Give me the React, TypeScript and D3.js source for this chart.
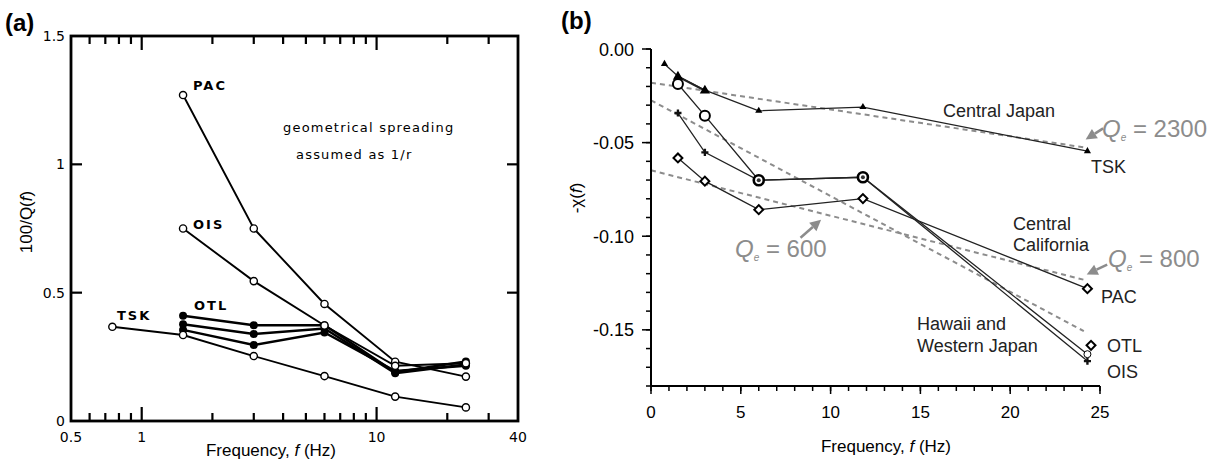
import React from "react";
import * as d3 from "d3";

// ---------- Panel (a) data ----------
const aFreq = [1.5, 3, 6, 12, 24];
const aTskFreq = [0.75, 1.5, 3, 6, 12, 24];
const aPAC = [1.27, 0.75, 0.456, 0.231, 0.173];
const aOIS = [0.75, 0.545, 0.372, 0.215, 0.225];
const aTSK = [0.367, 0.335, 0.253, 0.175, 0.095, 0.053];
const aOTL1 = [0.41, 0.373, 0.373, 0.19, 0.232];
const aOTL2 = [0.377, 0.339, 0.36, 0.186, 0.22];
const aOTL3 = [0.355, 0.296, 0.345, 0.195, 0.215];
const aMinorTicks = [0.6, 0.7, 0.8, 0.9, 2, 3, 4, 5, 6, 7, 8, 9, 20, 30];
const aMajorTicks = [1, 10];
const aXLabels = [0.5, 1, 10, 40];
const aXLabelText = ["0.5", "1", "10", "40"];
const aYTicks = [0.5, 1];
const aYLabels = [0, 0.5, 1, 1.5];
const aYLabelText = ["0", "0.5", "1", "1.5"];

// ---------- Panel (b) data ----------
const bFreq = [1.5, 3, 6, 11.8, 24.3];
const bTskFreq = [0.75, 1.5, 3, 6, 11.8, 24.3];
const bTSK = [-0.008, -0.0145, -0.022, -0.033, -0.031, -0.0546];
const bTskBigFreq = [1.5, 3];
const bTskBig = [-0.0148, -0.0222];
const bCircle = [-0.0187, -0.0356, -0.0701, -0.0685, -0.163];
const bPlus = [-0.0342, -0.0552, -0.0701, -0.0685, -0.1667];
const bPAC = [-0.0582, -0.0706, -0.0858, -0.0799, -0.128];
const bOtlFreq = [24.5];
const bOTL = [-0.1583];
const bQ2300 = [[0, -0.018], [24.3, -0.0528]];
const bQ600 = [[0, -0.0274], [24.1, -0.1507]];
const bQ800 = [[0, -0.0648], [24.2, -0.1235]];
const bXTicks = [0, 5, 10, 15, 20, 25];
const bXMinor = d3.range(0, 26, 1);
const bYTicks = [0, -0.05, -0.1, -0.15];
const bYTickText = ["0.00", "-0.05", "-0.10", "-0.15"];
const bYMinor = [0, -0.01, -0.02, -0.03, -0.04, -0.05, -0.06, -0.07, -0.08, -0.09, -0.1, -0.11, -0.12, -0.13, -0.14, -0.15, -0.16, -0.17, -0.18];
// arrows: [tail, tip] in data coordinates
const bArrow2300 = [[24.8, -0.0447], [24.2, -0.0484]];
const bArrow600 = [[8.66, -0.098], [9.47, -0.0912]];
const bArrow800 = [[25.0, -0.117], [24.26, -0.1205]];

const GRAY = "#8c8c8c";

export default function App() {
  const xA = d3.scaleLog().domain([0.5, 40]).range([71, 518]);
  const yA = d3.scaleLinear().domain([0, 1.5]).range([421, 36]);
  const xB = d3.scaleLinear().domain([0, 25]).range([651, 1100]);
  const yB = d3.scaleLinear().domain([-0.18, 0]).range([386, 49]);

  const lineA = (fs: number[], vs: number[]) =>
    d3.line<number>().x((_, i) => xA(fs[i])).y((v) => yA(v))(vs) || "";
  const lineB = (fs: number[], vs: number[]) =>
    d3.line<number>().x((_, i) => xB(fs[i])).y((v) => yB(v))(vs) || "";
  const lineBP = (pts: number[][]) =>
    d3.line<number[]>().x((p) => xB(p[0])).y((p) => yB(p[1]))(pts) || "";

  const aFont = "'DejaVu Sans', Verdana, sans-serif";
  const bFont = "'Liberation Sans', Arial, Helvetica, sans-serif";

  const openA = (fs: number[], vs: number[], key: string) =>
    vs.map((v, i) => (
      <circle key={key + i} cx={xA(fs[i])} cy={yA(v)} r={3.6} fill="#fff" stroke="#000" strokeWidth={1.4} />
    ));
  const filledA = (fs: number[], vs: number[], key: string) =>
    vs.map((v, i) => <circle key={key + i} cx={xA(fs[i])} cy={yA(v)} r={4} fill="#000" />);

  const sym = (type: d3.SymbolType, size: number) => d3.symbol().type(type).size(size)() || "";

  const arrow = (pts: number[][], key: string) => {
    const [t, h] = pts;
    const x1 = xB(t[0]), y1 = yB(t[1]), x2 = xB(h[0]), y2 = yB(h[1]);
    const ang = Math.atan2(y2 - y1, x2 - x1);
    const L = 11, W = 5.5;
    const bx = x2 - L * Math.cos(ang), by = y2 - L * Math.sin(ang);
    const px = -Math.sin(ang) * W, py = Math.cos(ang) * W;
    const ext = 8;
    return (
      <g key={key}>
        <line x1={x1 + ext * Math.cos(ang + Math.PI)} y1={y1 + ext * Math.sin(ang + Math.PI)} x2={bx} y2={by} stroke={GRAY} strokeWidth={2.5} />
        <path d={`M${x2},${y2}L${bx + px},${by + py}L${bx - px},${by - py}Z`} fill={GRAY} />
      </g>
    );
  };

  const qLabel = (x: number, y: number, num: string) => (
    <text x={x} y={y} fontFamily={bFont} fontSize={24} fill={GRAY}>
      <tspan fontStyle="italic">Q</tspan>
      <tspan fontStyle="italic" fontSize={10} dy={4}>e</tspan>
      <tspan dy={-4}>{" = " + num}</tspan>
    </text>
  );

  const diamond = sym(d3.symbolSquare, 40);

  return (
    <svg width={1214} height={459} style={{ display: "block", position: "absolute", left: 0, top: 0 }}>
      <rect width={1214} height={459} fill="#fff" />

      {/* ================= Panel (a) ================= */}
      <text x={5} y={31} fontFamily={bFont} fontWeight="bold" fontSize={24}>(a)</text>
      <rect x={71} y={36} width={447} height={385} fill="none" stroke="#000" strokeWidth={2.8} />
      {aMinorTicks.map((t) => (
        <g key={"amt" + t}>
          <line x1={xA(t)} x2={xA(t)} y1={36} y2={44} stroke="#000" strokeWidth={2.2} />
          <line x1={xA(t)} x2={xA(t)} y1={421} y2={413} stroke="#000" strokeWidth={2.2} />
        </g>
      ))}
      {aMajorTicks.map((t) => (
        <g key={"aMt" + t}>
          <line x1={xA(t)} x2={xA(t)} y1={36} y2={50} stroke="#000" strokeWidth={2.2} />
          <line x1={xA(t)} x2={xA(t)} y1={421} y2={407} stroke="#000" strokeWidth={2.2} />
        </g>
      ))}
      {aYTicks.map((t) => (
        <g key={"ayt" + t}>
          <line x1={71} x2={82} y1={yA(t)} y2={yA(t)} stroke="#000" strokeWidth={2.2} />
          <line x1={518} x2={507} y1={yA(t)} y2={yA(t)} stroke="#000" strokeWidth={2.2} />
        </g>
      ))}
      {aXLabels.map((t, i) => (
        <text key={"axl" + t} x={xA(t)} y={442} textAnchor="middle" fontFamily={aFont} fontSize={14}>{aXLabelText[i]}</text>
      ))}
      {aYLabels.map((t, i) => (
        <text key={"ayl" + t} x={65} y={yA(t) + 5} textAnchor="end" fontFamily={aFont} fontSize={14}>{aYLabelText[i]}</text>
      ))}
      <text x={271} y={456} textAnchor="middle" fontFamily={bFont} fontSize={17}>
        Frequency, <tspan fontStyle="italic">f</tspan> (Hz)
      </text>
      <text transform="translate(32,222) rotate(-90)" textAnchor="middle" fontFamily={bFont} fontSize={17}>
        100/Q(<tspan fontStyle="italic">f</tspan>)
      </text>

      <g fill="none" stroke="#000" strokeWidth={1.9}>
        <path d={lineA(aFreq, aPAC)} />
        <path d={lineA(aFreq, aOIS)} />
        <path d={lineA(aTskFreq, aTSK)} />
        <path d={lineA(aFreq, aOTL1)} strokeWidth={2.4} />
        <path d={lineA(aFreq, aOTL2)} strokeWidth={2.4} />
        <path d={lineA(aFreq, aOTL3)} strokeWidth={2.4} />
      </g>
      {filledA(aFreq, aOTL1, "o1")}
      {filledA(aFreq, aOTL2, "o2")}
      {filledA(aFreq, aOTL3, "o3")}
      {openA(aFreq, aPAC, "pac")}
      {openA(aFreq, aOIS, "ois")}
      {openA(aTskFreq, aTSK, "tsk")}

      <g fontFamily={aFont} fontSize={13} fontWeight="bold" letterSpacing={2}>
        <text x={193} y={90}>PAC</text>
        <text x={193} y={229}>OIS</text>
        <text x={194} y={310}>OTL</text>
        <text x={117} y={320}>TSK</text>
      </g>
      <g fontFamily={aFont} fontSize={13} letterSpacing={1.2}>
        <text x={283} y={132}>geometrical spreading</text>
        <text x={296} y={159}>assumed as 1/r</text>
      </g>

      {/* ================= Panel (b) ================= */}
      <text x={561} y={29} fontFamily={bFont} fontWeight="bold" fontSize={24}>(b)</text>
      <g fill="none" stroke={GRAY} strokeWidth={2} strokeDasharray="5,4">
        <path d={lineBP(bQ2300)} />
        <path d={lineBP(bQ600)} />
        <path d={lineBP(bQ800)} />
      </g>
      <line x1={651} x2={651} y1={yB(0)} y2={yB(-0.18)} stroke="#000" strokeWidth={2} />
      <line x1={651} x2={xB(25)} y1={386} y2={386} stroke="#000" strokeWidth={2} />
      {bYMinor.map((t) => (
        <line key={"bym" + t} x1={651} x2={646} y1={yB(t)} y2={yB(t)} stroke="#000" strokeWidth={1.5} />
      ))}
      {bYTicks.map((t, i) => (
        <g key={"byt" + t}>
          <line x1={651} x2={642} y1={yB(t)} y2={yB(t)} stroke="#000" strokeWidth={1.5} />
          <text x={634} y={yB(t) + 6.5} textAnchor="end" fontFamily={bFont} fontSize={18}>{bYTickText[i]}</text>
        </g>
      ))}
      {bXMinor.map((t) => (
        <line key={"bxm" + t} x1={xB(t)} x2={xB(t)} y1={386} y2={391} stroke="#000" strokeWidth={1.5} />
      ))}
      {bXTicks.map((t) => (
        <g key={"bxt" + t}>
          <line x1={xB(t)} x2={xB(t)} y1={386} y2={394} stroke="#000" strokeWidth={1.5} />
          <text x={xB(t)} y={418} textAnchor="middle" fontFamily={bFont} fontSize={17}>{t}</text>
        </g>
      ))}
      <text x={886} y={452} textAnchor="middle" fontFamily={bFont} fontSize={17}>
        Frequency, <tspan fontStyle="italic">f</tspan> (Hz)
      </text>
      <text transform="translate(582,198) rotate(-90)" textAnchor="middle" fontFamily={bFont} fontSize={17}>
        -χ(<tspan fontStyle="italic">f</tspan>)
      </text>

      <g fill="none" stroke="#222" strokeWidth={1.3}>
        <path d={lineB(bTskFreq, bTSK)} />
        <path d={lineB(bTskBigFreq, bTskBig)} strokeWidth={2} />
        <path d={lineB(bFreq, bCircle)} />
        <path d={lineB(bFreq, bPlus)} />
        <path d={lineB(bFreq, bPAC)} />
      </g>
      {bTSK.map((v, i) => (
        <path key={"btr" + i} d={sym(d3.symbolTriangle, 22)} transform={`translate(${xB(bTskFreq[i])},${yB(v)})`} fill="#000" />
      ))}
      {bTskBig.map((v, i) => (
        <path key={"btb" + i} d={sym(d3.symbolTriangle, 45)} transform={`translate(${xB(bTskBigFreq[i])},${yB(v)})`} fill="#000" />
      ))}
      {bPlus.map((v, i) => (
        <path key={"bp" + i} d={sym(d3.symbolCross, 28)} transform={`translate(${xB(bFreq[i])},${yB(v)})`} fill="#111" />
      ))}
      {bCircle.map((v, i) => {
        const last = i === bCircle.length - 1;
        const shared = bCircle[i] === bPlus[i];
        return (
          <g key={"bc" + i}>
            <circle cx={xB(bFreq[i])} cy={yB(v)} r={last ? 3.5 : 5} fill="#fff" stroke="#000" strokeWidth={last ? 1 : shared ? 2.6 : 2} />
            {shared && <circle cx={xB(bFreq[i])} cy={yB(v)} r={2} fill="#333" />}
          </g>
        );
      })}
      {bPAC.map((v, i) => (
        <path key={"bd" + i} d={diamond} transform={`translate(${xB(bFreq[i])},${yB(v)}) rotate(45)`} fill="#fff" stroke="#000" strokeWidth={2} />
      ))}
      {bOTL.map((v, i) => (
        <path key={"bo" + i} d={diamond} transform={`translate(${xB(bOtlFreq[i])},${yB(v)}) rotate(45)`} fill="#fff" stroke="#000" strokeWidth={2} />
      ))}

      {arrow(bArrow2300, "a2300")}
      {arrow(bArrow600, "a600")}
      {arrow(bArrow800, "a800")}
      {qLabel(1102, 137, "2300")}
      {qLabel(735, 257, "600")}
      {qLabel(1108, 267, "800")}

      <g fontFamily={bFont} fontSize={18} fill="#222">
        <text x={943} y={117}>Central Japan</text>
        <text x={1091} y={173}>TSK</text>
        <text x={1013} y={230}>Central</text>
        <text x={1013} y={251}>California</text>
        <text x={1101} y={303}>PAC</text>
        <text x={917} y={330}>Hawaii and</text>
        <text x={917} y={352}>Western Japan</text>
        <text x={1107} y={352}>OTL</text>
        <text x={1107} y={378}>OIS</text>
      </g>
    </svg>
  );
}
